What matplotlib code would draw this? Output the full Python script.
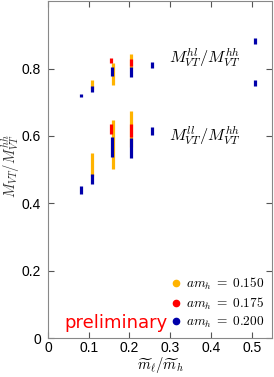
import matplotlib.pyplot as plt
from matplotlib.lines import Line2D

plt.rcParams["mathtext.fontset"] = "cm"
plt.rcParams["font.family"] = ["Liberation Sans", "DejaVu Sans"]

# am_h = 0.150
x_150 = [0.108, 0.160, 0.205]
hl_150 = [0.752, 0.784, 0.822]
hl_150_err = [0.013, 0.032, 0.021]
ll_150 = [0.515, 0.575, 0.620]
ll_150_err = [0.033, 0.073, 0.053]

# am_h = 0.175
x_175 = [0.154, 0.205]
hl_175 = [0.824, 0.818]
hl_175_err = [0.008, 0.011]
ll_175 = [0.621, 0.616]
ll_175_err = [0.014, 0.020]

# am_h = 0.200
x_200 = [0.080, 0.108, 0.156, 0.205, 0.256, 0.507]
hl_200 = [0.721, 0.739, 0.792, 0.790, 0.810, 0.882]
hl_200_err = [0.004, 0.009, 0.014, 0.014, 0.009, 0.008]
ll_200 = [0.440, 0.473, 0.568, 0.565, 0.614, 0.758]
ll_200_err = [0.012, 0.015, 0.029, 0.030, 0.012, 0.009]

series = [
    ("0.150", "#FFB300", x_150, hl_150, hl_150_err, ll_150, ll_150_err),
    ("0.175", "#FF0000", x_175, hl_175, hl_175_err, ll_175, ll_175_err),
    ("0.200", "#0000AA", x_200, hl_200, hl_200_err, ll_200, ll_200_err),
]

fig = plt.figure(figsize=(2.74, 3.77), dpi=100)
ax = fig.add_axes([0.175, 0.103, 0.818, 0.894])

handles = []
for label, color, xs, hl, hl_err, ll, ll_err in series:
    for ys, err in ((hl, hl_err), (ll, ll_err)):
        ax.errorbar(xs, ys, yerr=err, fmt="none", ecolor=color,
                    elinewidth=2.3, capsize=0)
    handles.append(Line2D([], [], ls="none", marker="o", ms=4.5,
                          color=color, label=rf"$am_h\;=\;{label}$"))

ax.text(0.298, 0.833, r"$M^{hl}_{VT}/M^{hh}_{VT}$", fontsize=11.8, va="center")
ax.text(0.298, 0.601, r"$M^{ll}_{VT}/M^{hh}_{VT}$", fontsize=11.8, va="center")
ax.text(0.040, 0.030, "preliminary", color="red", fontsize=13,
        family="DejaVu Sans")

ax.legend(handles=handles, loc="lower right", frameon=False, fontsize=9.6,
          handlelength=0.6, handletextpad=0.4, labelspacing=0.25,
          borderaxespad=0.2)

ax.set_xlim(0, 0.55)
ax.set_ylim(0, 1.0)
ax.set_xticks([0, 0.1, 0.2, 0.3, 0.4, 0.5])
ax.set_xticklabels(["0", "0.1", "0.2", "0.3", "0.4", "0.5"])
ax.set_yticks([0, 0.2, 0.4, 0.6, 0.8])
ax.set_yticklabels(["0", "0.2", "0.4", "0.6", "0.8"])
ax.tick_params(direction="in", top=True, right=True, labelsize=10,
               length=4, color="#555555")
ax.tick_params(axis="y", pad=5)
ax.tick_params(axis="x", pad=2)
for s in ax.spines.values():
    s.set_color("#888888")

ax.set_xlabel(r"$\widetilde{m}_\ell/\widetilde{m}_h$", fontsize=10.5)
ax.xaxis.set_label_coords(0.5, -0.05)
ax.set_ylabel(r"$M_{VT}/M^{hh}_{VT}$", fontsize=10.5, color="#333333")
ax.yaxis.set_label_coords(-0.115, 0.51)

fig.savefig("out.png", dpi=100)
